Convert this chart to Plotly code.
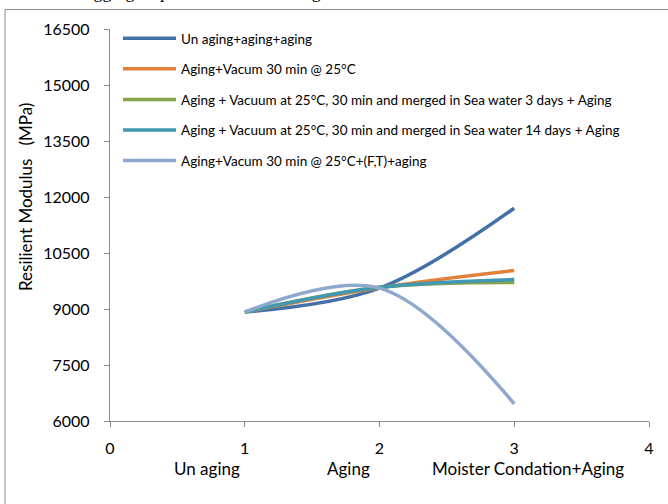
import plotly.graph_objects as go

# ---- data ----
x_vals = [1, 2, 3]
series_names = [
    "Un aging+aging+aging",
    "Aging+Vacum 30 min @ 25°C",
    "Aging + Vacuum at 25°C, 30 min and merged in Sea water 3 days + Aging",
    "Aging + Vacuum at 25°C, 30 min and merged in Sea water 14 days + Aging",
    "Aging+Vacum 30 min @ 25°C+(F,T)+aging",
]
unaging_aging = [8920, 9560, 11700]
vacum_30 = [8920, 9570, 10030]
sea_3days = [8920, 9580, 9710]
sea_14days = [8920, 9580, 9790]
vacum_ft = [8920, 9560, 6460]
series_values = [unaging_aging, vacum_30, sea_3days, sea_14days, vacum_ft]
colors = ["#4470A8", "#E0823A", "#86A34C", "#4198B0", "#8EA8CE"]

y_ticks = [6000, 7500, 9000, 10500, 12000, 13500, 15000, 16500]
y_tick_text = [str(v) for v in y_ticks]
x_ticks = [0, 1, 2, 3, 4]
stage_labels = ["Un aging", "Aging", "Moister Condation+Aging"]
stage_pos = [0.72, 1.77, 3.1]
caption = "individual aggregate particles with freezing."

FONT = "Lato"
W, H = 668, 504
ml, mr, mt, mb = 110, 19, 29, 83
pw, ph = W - ml - mr, H - mt - mb


def px_x(p):
    return (p - ml) / pw


def px_y(p):
    return (H - mb - p) / ph


fig = go.Figure()
for i, (name, vals, col) in enumerate(zip(series_names, series_values, colors)):
    fig.add_trace(go.Scatter(
        x=x_vals, y=vals, mode="lines", name=name,
        line=dict(color=col, width=3.5, shape="spline", smoothing=1.0),
        legendgroup=f"g{i}",
    ))

axis_col = "#8A8A8A"
fig.update_layout(
    width=W, height=H,
    margin=dict(l=ml, r=mr, t=mt, b=mb),
    paper_bgcolor="white", plot_bgcolor="white",
    font=dict(family=FONT, color="#000000", size=16),
    showlegend=True,
    legend=dict(
        x=px_x(118), y=px_y(23), xanchor="left", yanchor="top",
        bgcolor="rgba(0,0,0,0)", font=dict(size=13.5, family=FONT),
        tracegroupgap=10, itemwidth=53,
    ),
    xaxis=dict(
        range=[0, 4], tickvals=x_ticks, showgrid=False, zeroline=False,
        showline=True, linecolor=axis_col, linewidth=1.3,
        ticks="outside", ticklen=5, tickcolor=axis_col, tickwidth=1.3,
        tickfont=dict(size=16), ticklabelstandoff=8,
    ),
    yaxis=dict(
        range=[6000, 16500], tickvals=y_ticks, ticktext=y_tick_text,
        showgrid=False, zeroline=False,
        showline=True, linecolor=axis_col, linewidth=1.3,
        ticks="outside", ticklen=5, tickcolor=axis_col, tickwidth=1.3,
        tickfont=dict(size=16), ticklabelstandoff=11,
    ),
)

# y axis title
fig.add_annotation(
    text="Resilient Modulus   (MPa)", textangle=-90,
    xref="paper", yref="paper", x=px_x(25), y=px_y(197),
    xanchor="center", yanchor="middle",
    showarrow=False, font=dict(size=17, family=FONT),
)
# stage labels
for lab, pos in zip(stage_labels, stage_pos):
    fig.add_annotation(
        text=lab, xref="x", yref="paper", x=pos, y=px_y(468),
        xanchor="center", yanchor="middle", showarrow=False,
        font=dict(size=17, family=FONT),
    )
# cropped caption at top (the reference shows it cut by the picture edge)
fig.add_annotation(
    text=caption, xref="paper", yref="paper", x=px_x(6), y=px_y(4),
    xanchor="left", yanchor="bottom", showarrow=False,
    font=dict(size=18, family="Liberation Serif"),
)
# chart border (top and left visible)
fig.add_shape(type="line", xref="paper", yref="paper",
              x0=px_x(5), x1=px_x(700), y0=px_y(9.5), y1=px_y(9.5),
              line=dict(color="#8C8C8C", width=1))
fig.add_shape(type="line", xref="paper", yref="paper",
              x0=px_x(5), x1=px_x(5), y0=px_y(9.5), y1=px_y(560),
              line=dict(color="#8C8C8C", width=1))

fig.write_html("out.html")
